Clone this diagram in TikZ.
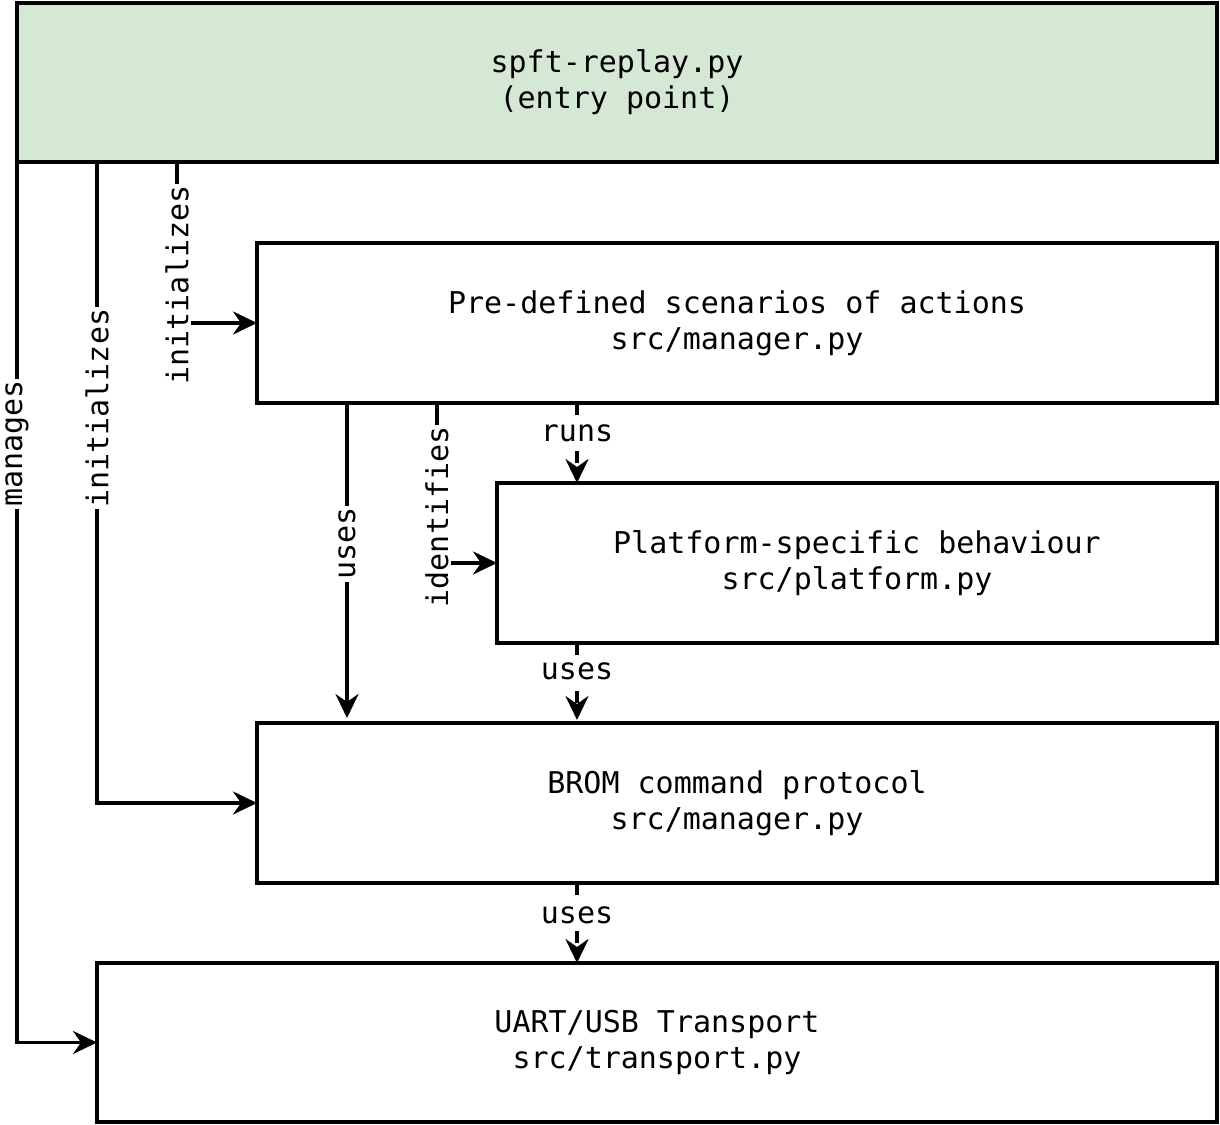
\documentclass[tikz,border=0pt]{standalone}
\usepackage{fontspec}
\setmonofont{DejaVu Sans Mono}
\usetikzlibrary{calc,arrows.meta}
\definecolor{entrygreen}{HTML}{D5E8D4}
\begin{document}
\begin{tikzpicture}[x=1pt,y=-1pt,
  box/.style={draw=black, line width=3.6pt, rectangle, outer sep=0pt, align=center,
    font=\fontsize{30}{36}\ttfamily},
  arr/.style={line width=3.6pt, -{Stealth[length=24pt,width=23pt,inset=8pt]}},
  dsh/.style={arr, dash pattern=on 12pt off 12pt},
  lbl/.style={fill=white, solid, inner sep=2pt, font=\fontsize{30}{36}\ttfamily},
  vlbl/.style={lbl, rotate=90}]
\useasboundingbox (0,0) rectangle (1220,1124);
\node[box, fill=entrygreen, minimum width=1200pt, minimum height=159pt] (top) at (617,82.5) {spft-replay.py\\(entry point)};
\node[box, minimum width=960pt, minimum height=160pt] (mgr) at (737,323) {Pre-defined scenarios of actions\\src/manager.py};
\node[box, minimum width=720pt, minimum height=160pt] (plat) at (857,563) {Platform-specific behaviour\\src/platform.py};
\node[box, minimum width=960pt, minimum height=160pt] (brom) at (737,803) {BROM command protocol\\src/manager.py};
\node[box, minimum width=1120pt, minimum height=159pt] (trans) at (657,1042.5) {UART/USB Transport\\src/transport.py};
% manages
\draw[arr] (top.south west) |- node[vlbl, pos=0.16] {manages} (trans.west);
% initializes (outer)
\coordinate (ia) at ($(top.south west)+(80,0)$);
\draw[arr] (ia) |- node[vlbl, pos=0.192] {initializes} (brom.west);
% initializes (inner)
\coordinate (ib) at ($(top.south west)+(160,0)$);
\draw[arr] (ib) |- node[vlbl, pos=0.382] {initializes} (mgr.west);
% uses (solid)
\coordinate (ua) at ($(mgr.south west)+(90,0)$);
\draw[arr, shorten >=5pt] (ua) -- node[vlbl, pos=0.44] {uses} (ua |- brom.north);
% identifies
\coordinate (id) at ($(mgr.south west)+(180,0)$);
\draw[arr] (id) |- node[vlbl, pos=0.356] {identifies} (plat.west);
% runs
\coordinate (rn) at ($(mgr.south west)+(320,0)$);
\draw[dsh] (rn) -- node[lbl, pos=0.375] {runs} (rn |- plat.north);
% uses (platform -> brom)
\coordinate (up) at ($(plat.south west)+(80,0)$);
\draw[dsh, shorten >=3pt] (up) -- node[lbl, pos=0.36] {uses} (up |- brom.north);
% uses (brom -> transport)
\coordinate (ub) at ($(brom.south west)+(320,0)$);
\draw[dsh] (ub) -- node[lbl, pos=0.4] {uses} (ub |- trans.north);
\end{tikzpicture}
\end{document}
